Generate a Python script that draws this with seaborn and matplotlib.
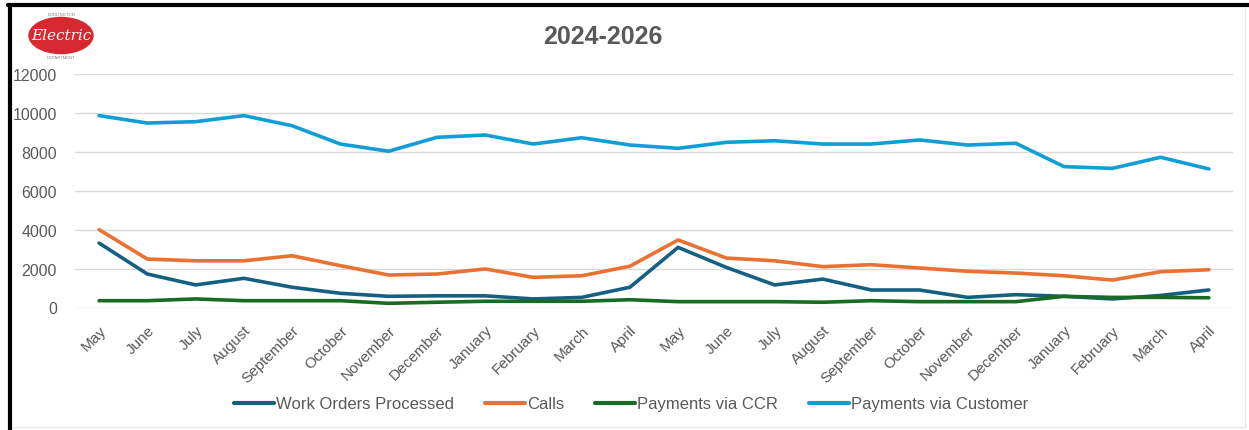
import matplotlib
matplotlib.use("Agg")
import matplotlib.pyplot as plt
from matplotlib.patches import Ellipse
from matplotlib.lines import Line2D
import seaborn as sns
import pandas as pd

months = ["May", "June", "July", "August", "September", "October", "November",
          "December", "January", "February", "March", "April",
          "May", "June", "July", "August", "September", "October", "November",
          "December", "January", "February", "March", "April"]

work_orders = [3310, 1720, 1160, 1500, 1040, 730, 575, 600, 600, 440, 520, 1040,
               3090, 2060, 1160, 1460, 900, 900, 520, 660, 575, 440, 620, 900]
calls = [4000, 2490, 2400, 2400, 2660, 2150, 1670, 1720, 1980, 1550, 1630, 2120,
         3470, 2540, 2400, 2100, 2200, 2030, 1860, 1770, 1630, 1410, 1840, 1940]
payments_ccr = [350, 350, 440, 350, 350, 350, 215, 270, 320, 320, 320, 400,
                300, 300, 300, 270, 350, 300, 300, 300, 575, 520, 520, 500]
payments_customer = [9860, 9480, 9550, 9860, 9340, 8400, 8030, 8745, 8865, 8400, 8725, 8350,
                     8180, 8490, 8570, 8400, 8400, 8610, 8350, 8440, 7240, 7150, 7720, 7120]

series_names = ["Work Orders Processed", "Calls", "Payments via CCR", "Payments via Customer"]
series_values = [work_orders, calls, payments_ccr, payments_customer]
palette = ["#156082", "#E97132", "#196B24", "#0F9ED5"]

frames = []
for name, vals in zip(series_names, series_values):
    frames.append(pd.DataFrame({"idx": range(len(months)), "value": vals, "series": name}))
df = pd.concat(frames, ignore_index=True)

sns.set_theme(style="white")
plt.rcParams["font.family"] = ["Liberation Sans", "DejaVu Sans"]

W, H = 1249, 431
fig = plt.figure(figsize=(W / 100, H / 100), dpi=100)
ax = fig.add_axes([75 / W, 1 - 308.5 / H, (1233 - 75) / W, (308.5 - 75) / H])

sns.lineplot(data=df, x="idx", y="value", hue="series", hue_order=series_names,
             palette=palette, linewidth=2.6, ax=ax, legend=True)

gray = "#595959"
ax.set_xlim(-0.5, len(months) - 0.5)
ax.set_ylim(0, 12000)
ax.set_yticks(range(0, 12001, 2000))
ax.set_yticklabels([str(v) for v in range(0, 12001, 2000)], color=gray, fontsize=11.5)
ax.set_xticks(range(len(months)))
ax.set_xticklabels(months, rotation=45, ha="right", rotation_mode="anchor",
                   color=gray, fontsize=11)
ax.tick_params(axis="y", length=0, pad=13)
ax.tick_params(axis="x", length=0, pad=11)
ax.set_xlabel("")
ax.set_ylabel("")
ax.grid(axis="y", color="#d9d9d9", linewidth=1)
ax.set_axisbelow(True)
for s in ax.spines.values():
    s.set_visible(False)

handles, labels = ax.get_legend_handles_labels()
ax.legend_.remove()
for h in handles:
    h.set_linewidth(3)
fig.legend(handles, labels, loc="center", bbox_to_anchor=(631 / W, 1 - 405 / H),
           ncol=4, frameon=False, fontsize=12, handlelength=2.4,
           handletextpad=0.12, columnspacing=1.85, labelcolor=gray)

fig.text(603 / W, 1 - 37 / H, "2024-2026", ha="center", va="center",
         fontsize=18, fontweight="bold", color=gray)

# department logo
logo = Ellipse((61 / W, 1 - 36.5 / H), 64 / W, 36 / H, transform=fig.transFigure,
               facecolor="#D7282F", edgecolor="#D7282F")
fig.add_artist(logo)
fig.text(61 / W, 1 - 36 / H, "Electric", ha="center", va="center", fontsize=11,
         color="white", style="italic", family="DejaVu Serif")
fig.text(61 / W, 1 - 15 / H, "BURLINGTON", ha="center", va="center", fontsize=3,
         color="#7f7f7f")
fig.text(61 / W, 1 - 58 / H, "DEPARTMENT", ha="center", va="center", fontsize=3,
         color="#7f7f7f")

# frame around the panel
fig.add_artist(Line2D([8 / W, 1], [1 - 5.5 / H, 1 - 5.5 / H], color="black",
                      linewidth=3, transform=fig.transFigure))
fig.add_artist(Line2D([10 / W, 10 / W], [0, 1 - 5.5 / H], color="black",
                      linewidth=3, transform=fig.transFigure))
fig.add_artist(Line2D([1245 / W, 1245 / W], [1 - 428 / H, 1 - 8 / H], color="#e6e6e6",
                      linewidth=1, transform=fig.transFigure))
fig.add_artist(Line2D([12 / W, 1245 / W], [1 - 428 / H, 1 - 428 / H], color="#e6e6e6",
                      linewidth=1, transform=fig.transFigure))

fig.savefig("out.png", dpi=100)
